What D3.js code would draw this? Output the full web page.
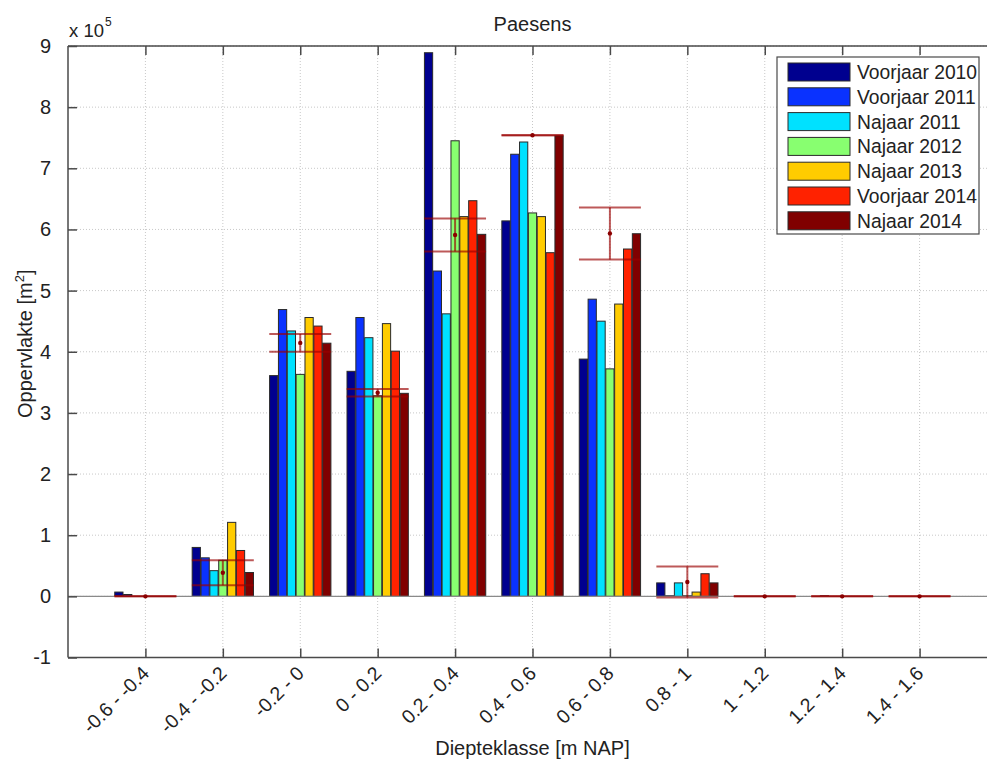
<!DOCTYPE html>
<html>
<head>
<meta charset="utf-8">
<script src="https://cdn.jsdelivr.net/npm/d3@7"></script>
<style>
  html, body { margin: 0; padding: 0; background: #fff; overflow: hidden; }
  svg { display: block; font-family: "Liberation Sans", Arial, Helvetica, sans-serif; }
</style>
</head>
<body>
<div id="chart"></div>
<script>
// ---------- data (values in units of 10^5 m²) ----------
const title = "Paesens";
const xLabel = "Diepteklasse [m NAP]";
const categories = ["-0.6 - -0.4", "-0.4 - -0.2", "-0.2 - 0", "0 - 0.2", "0.2 - 0.4", "0.4 - 0.6",
                    "0.6 - 0.8", "0.8 - 1", "1 - 1.2", "1.2 - 1.4", "1.4 - 1.6"];
const seriesNames = ["Voorjaar 2010", "Voorjaar 2011", "Najaar 2011", "Najaar 2012",
                     "Najaar 2013", "Voorjaar 2014", "Najaar 2014"];
const seriesColors = ["#00008F", "#0A32FF", "#00E1FF", "#88FF70", "#FFCC00", "#FF2200", "#800000"];
const voorjaar2010 = [0.07, 0.80, 3.61, 3.68, 8.89, 6.14, 3.88, 0.22, 0, 0, 0];
const voorjaar2011 = [0.03, 0.63, 4.69, 4.56, 5.32, 7.23, 4.86, 0.01, 0, 0.01, 0];
const najaar2011   = [0, 0.42, 4.34, 4.23, 4.62, 7.43, 4.50, 0.22, 0, 0, 0];
const najaar2012   = [0, 0.59, 3.63, 3.28, 7.45, 6.27, 3.72, 0.01, 0, 0, 0];
const najaar2013   = [0, 1.21, 4.56, 4.46, 6.21, 6.21, 4.78, 0.07, 0, 0, 0];
const voorjaar2014 = [0, 0.75, 4.42, 4.01, 6.47, 5.62, 5.68, 0.37, 0, 0, 0];
const najaar2014   = [0, 0.39, 4.14, 3.32, 5.92, 7.53, 5.93, 0.22, 0, 0, 0];
const errCenter    = [0, 0.385, 4.145, 3.33, 5.91, 7.54, 5.935, 0.235, 0, 0, 0];
const errHalf      = [0, 0.205, 0.145, 0.06, 0.27, 0, 0.425, 0.255, 0, 0, 0];
const yTicks = [-1, 0, 1, 2, 3, 4, 5, 6, 7, 8, 9];

const seriesValues = [voorjaar2010, voorjaar2011, najaar2011, najaar2012, najaar2013, voorjaar2014, najaar2014];

// ---------- layout ----------
const W = 987, H = 760;
const pLeft = 68, pRight = 997, pTop = 46, pBottom = 657.5;
const textColor = "#222";
const axisColor = "#4a4a4a";

const svg = d3.select("#chart").append("svg").attr("width", W).attr("height", H);

const x = d3.scaleLinear().domain([0, 12]).range([pLeft, pRight]);
const y = d3.scaleLinear().domain([-1, 9]).range([pBottom, pTop]);
const nS = seriesNames.length;
const groupWidth = 0.8;
const pitch = groupWidth / nS;
const barW = pitch * 0.93;

// grid
const grid = svg.append("g");
grid.selectAll("line.gy").data(yTicks).join("line")
  .attr("x1", pLeft).attr("x2", pRight).attr("y1", d => y(d)).attr("y2", d => y(d))
  .attr("stroke", "#c8c8c8").attr("stroke-width", 1).attr("stroke-dasharray", "1,2");
grid.selectAll("line.gx").data(categories).join("line")
  .attr("x1", (d, i) => x(i + 1)).attr("x2", (d, i) => x(i + 1)).attr("y1", pTop).attr("y2", pBottom)
  .attr("stroke", "#c8c8c8").attr("stroke-width", 1).attr("stroke-dasharray", "1,2");

// bars
const bars = [];
seriesValues.forEach((vals, s) => {
  vals.forEach((v, i) => {
    if (v > 0) bars.push({ s, i, v });
  });
});
svg.append("g").selectAll("rect").data(bars).join("rect")
  .attr("x", d => x(d.i + 1 - groupWidth / 2 + pitch * d.s + (pitch - barW) / 2))
  .attr("width", d => x(barW) - x(0))
  .attr("y", d => y(d.v))
  .attr("height", d => y(0) - y(d.v))
  .attr("fill", d => seriesColors[d.s])
  .attr("stroke", "#2a2a2a").attr("stroke-width", 1);

// baseline
svg.append("line").attr("x1", pLeft).attr("x2", pRight).attr("y1", y(0)).attr("y2", y(0))
  .attr("stroke", "#8a8a8a").attr("stroke-width", 1.2);

// error bars
const eg = svg.append("g").attr("stroke", "#9a0000").attr("stroke-opacity", 0.65).attr("stroke-width", 2);
categories.forEach((c, i) => {
  const cx = x(i + 1), lo = errCenter[i] - errHalf[i], hi = errCenter[i] + errHalf[i];
  const x1 = x(i + 1 - 0.4), x2 = x(i + 1 + 0.4);
  eg.append("line").attr("x1", cx).attr("x2", cx).attr("y1", y(lo)).attr("y2", y(hi));
  eg.append("line").attr("x1", x1).attr("x2", x2).attr("y1", y(lo)).attr("y2", y(lo));
  eg.append("line").attr("x1", x1).attr("x2", x2).attr("y1", y(hi)).attr("y2", y(hi));
});
svg.append("g").selectAll("circle").data(errCenter).join("circle")
  .attr("cx", (d, i) => x(i + 1)).attr("cy", d => y(d)).attr("r", 2.2)
  .attr("fill", "#8b0000");

// axes frame
const frame = svg.append("g").attr("stroke", axisColor).attr("stroke-width", 1.5).attr("fill", "none");
frame.append("line").attr("x1", pLeft).attr("x2", pLeft).attr("y1", pTop).attr("y2", pBottom);
frame.append("line").attr("x1", pLeft).attr("x2", pRight).attr("y1", pBottom).attr("y2", pBottom);
frame.append("line").attr("x1", pLeft).attr("x2", pRight).attr("y1", pTop).attr("y2", pTop);

// y axis ticks (inward)
const yAxis = d3.axisLeft(y).tickValues(yTicks).tickSize(-9).tickPadding(17).tickFormat(d => String(d));
const ya = svg.append("g").attr("transform", `translate(${pLeft},0)`).call(yAxis);
ya.select(".domain").remove();
ya.selectAll(".tick line").attr("stroke", axisColor).attr("stroke-width", 1.5);
ya.selectAll(".tick text").attr("fill", textColor).attr("font-size", 20)
  .attr("font-family", "Liberation Sans, Arial, sans-serif");

// x axis ticks (inward) at bottom and top
const xAxis = d3.axisBottom(x).tickValues(d3.range(1, categories.length + 1)).tickSize(-9).tickFormat("");
const xa = svg.append("g").attr("transform", `translate(0,${pBottom})`).call(xAxis);
xa.select(".domain").remove();
xa.selectAll(".tick line").attr("stroke", axisColor).attr("stroke-width", 1.5);
const xTop = d3.axisTop(x).tickValues(d3.range(1, categories.length + 1)).tickSize(-9).tickFormat("");
const xt = svg.append("g").attr("transform", `translate(0,${pTop})`).call(xTop);
xt.select(".domain").remove();
xt.selectAll(".tick line").attr("stroke", axisColor).attr("stroke-width", 1.5);

// rotated category labels
svg.append("g").selectAll("text").data(categories).join("text")
  .attr("transform", (d, i) => `translate(${x(i + 1) + 5},${pBottom + 17}) rotate(-45)`)
  .attr("text-anchor", "end")
  .attr("font-size", 19.5)
  .attr("fill", textColor)
  .text(d => d);

// exponent label
const ex = svg.append("text").attr("x", 69).attr("y", 37).attr("font-size", 18.5).attr("fill", textColor);
ex.append("tspan").text("x 10");
ex.append("tspan").attr("font-size", 12).attr("dy", -11).attr("dx", 1).text("5");

// title
svg.append("text").attr("x", (pLeft + pRight) / 2).attr("y", 31).attr("text-anchor", "middle")
  .attr("font-size", 20).attr("fill", textColor).text(title);

// x label
svg.append("text").attr("x", (pLeft + pRight) / 2).attr("y", 755).attr("text-anchor", "middle")
  .attr("font-size", 20).attr("fill", textColor).text(xLabel);

// y label
const yl = svg.append("text").attr("transform", `translate(32,${(pTop + pBottom) / 2 - 8}) rotate(-90)`)
  .attr("text-anchor", "middle").attr("font-size", 20).attr("fill", textColor);
yl.append("tspan").text("Oppervlakte [m");
yl.append("tspan").attr("font-size", 13).attr("dy", -8).text("2");
yl.append("tspan").attr("dy", 8).text("]");

// legend
const lg = svg.append("g");
lg.append("rect").attr("x", 777).attr("y", 57).attr("width", 202).attr("height", 177)
  .attr("fill", "#fff").attr("stroke", axisColor).attr("stroke-width", 1.2);
const items = lg.selectAll("g.item").data(seriesNames).join("g")
  .attr("transform", (d, i) => `translate(788,${63 + i * 24.8})`);
items.append("rect").attr("width", 62).attr("height", 18)
  .attr("fill", (d, i) => seriesColors[i]).attr("stroke", "#2a2a2a").attr("stroke-width", 1);
items.append("text").attr("x", 69).attr("y", 16).attr("font-size", 19.3).attr("fill", textColor).text(d => d);
</script>
</body>
</html>
